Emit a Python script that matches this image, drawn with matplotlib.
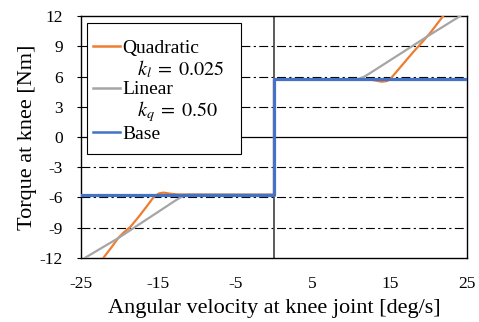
import matplotlib
matplotlib.use("Agg")
import matplotlib.pyplot as plt
from matplotlib.lines import Line2D
from matplotlib.patches import Rectangle

plt.rcParams.update({
    "font.family": ["Liberation Serif", "DejaVu Serif"],
    "mathtext.fontset": "stix",
    "font.size": 12.5,
    "axes.unicode_minus": False,
})

# Data
base_x = [-25, 0, 0, 25]
base_y = [-5.72, -5.72, 5.72, 5.72]

quad_x = [-22.1, -21.0, -20.2, -19.5, -18.65, -17.5, -16.5, -15.6, -14.9, -14.3,
          -13.5, -12.5, 0, 0, 12.5, 13.3, 13.95, 14.6, 15.0, 16.0, 17.0, 18.0,
          18.7, 20.1, 21.0, 21.9]
quad_y = [-12.0, -10.9, -10.05, -9.5, -8.96, -7.9, -6.9, -5.98, -5.6, -5.52,
          -5.62, -5.7, -5.72, 5.72, 5.7, 5.58, 5.49, 5.55, 5.7, 6.6, 7.5, 8.4,
          9.0, 10.2, 11.1, 12.0]

lin_x = [-24.5, -20.2, -12.8, -12.0, -11.1, 0, 0, 10.75, 11.6, 12.4, 20.1, 24.1]
lin_y = [-12.0, -10.05, -6.32, -5.95, -5.72, -5.72, 5.72, 5.72, 5.95, 6.32, 10.1, 12.0]

xticks = [-25, -15, -5, 5, 15, 25]
yticks = [-12, -9, -6, -3, 0, 3, 6, 9, 12]

ORANGE = "#ED7D31"
GRAY = "#A5A5A5"
BLUE = "#4472C4"

fig = plt.figure(figsize=(4.79, 3.22), dpi=100)
ax = fig.add_axes([0.169, 0.199, 0.806, 0.751])

for y in [-9, -6, -3, 3, 6, 9]:
    ax.axhline(y, color="black", lw=0.8, ls=(0, (8, 3, 2, 3)), zorder=1)
ax.axhline(0, color="black", lw=0.9, zorder=1)
ax.axvline(0, color="#404040", lw=1.2, zorder=1)

ax.plot(quad_x, quad_y, color=ORANGE, lw=1.6, zorder=3)
ax.plot(lin_x, lin_y, color=GRAY, lw=1.6, zorder=3)
ax.plot(base_x, base_y, color=BLUE, lw=2.3, zorder=4)

ax.set_xlim(-25, 25)
ax.set_ylim(-12, 12)
ax.set_xticks(xticks)
ax.set_yticks(yticks)
ax.tick_params(axis="x", length=0, pad=13)
ax.tick_params(axis="y", length=3, direction="out", pad=10, width=0.8)
for s in ax.spines.values():
    s.set_color("black")
    s.set_linewidth(1.0)

ax.set_xlabel("Angular velocity at knee joint [deg/s]", fontsize=16, labelpad=5)
ax.set_ylabel("Torque at knee [Nm]", fontsize=16, labelpad=2)

# legend box (Excel style: small side padding, taller top/bottom padding)
ax.add_patch(Rectangle((0.0155, 0.430), 0.399, 0.541, transform=ax.transAxes,
                       facecolor="white", edgecolor="black", lw=0.8, zorder=5))

handles = [
    Line2D([], [], color=ORANGE, lw=1.8),
    Line2D([], [], color="none"),
    Line2D([], [], color=GRAY, lw=1.8),
    Line2D([], [], color="none"),
    Line2D([], [], color=BLUE, lw=1.8),
]
labels = ["Quadratic", "   $k_l\\;=\\;0.025$", "Linear", "   $k_q\\;=\\;0.50$", "Base"]
leg = ax.legend(handles, labels, loc="upper left", bbox_to_anchor=(0.031, 0.903),
                borderaxespad=0, borderpad=0, fontsize=14, handlelength=1.4,
                handletextpad=0.1, labelspacing=0.05, frameon=False)
leg.set_zorder(6)
for i in (1, 3):
    leg.get_texts()[i].set_fontsize(14.5)

fig.savefig("out.png", dpi=100)
